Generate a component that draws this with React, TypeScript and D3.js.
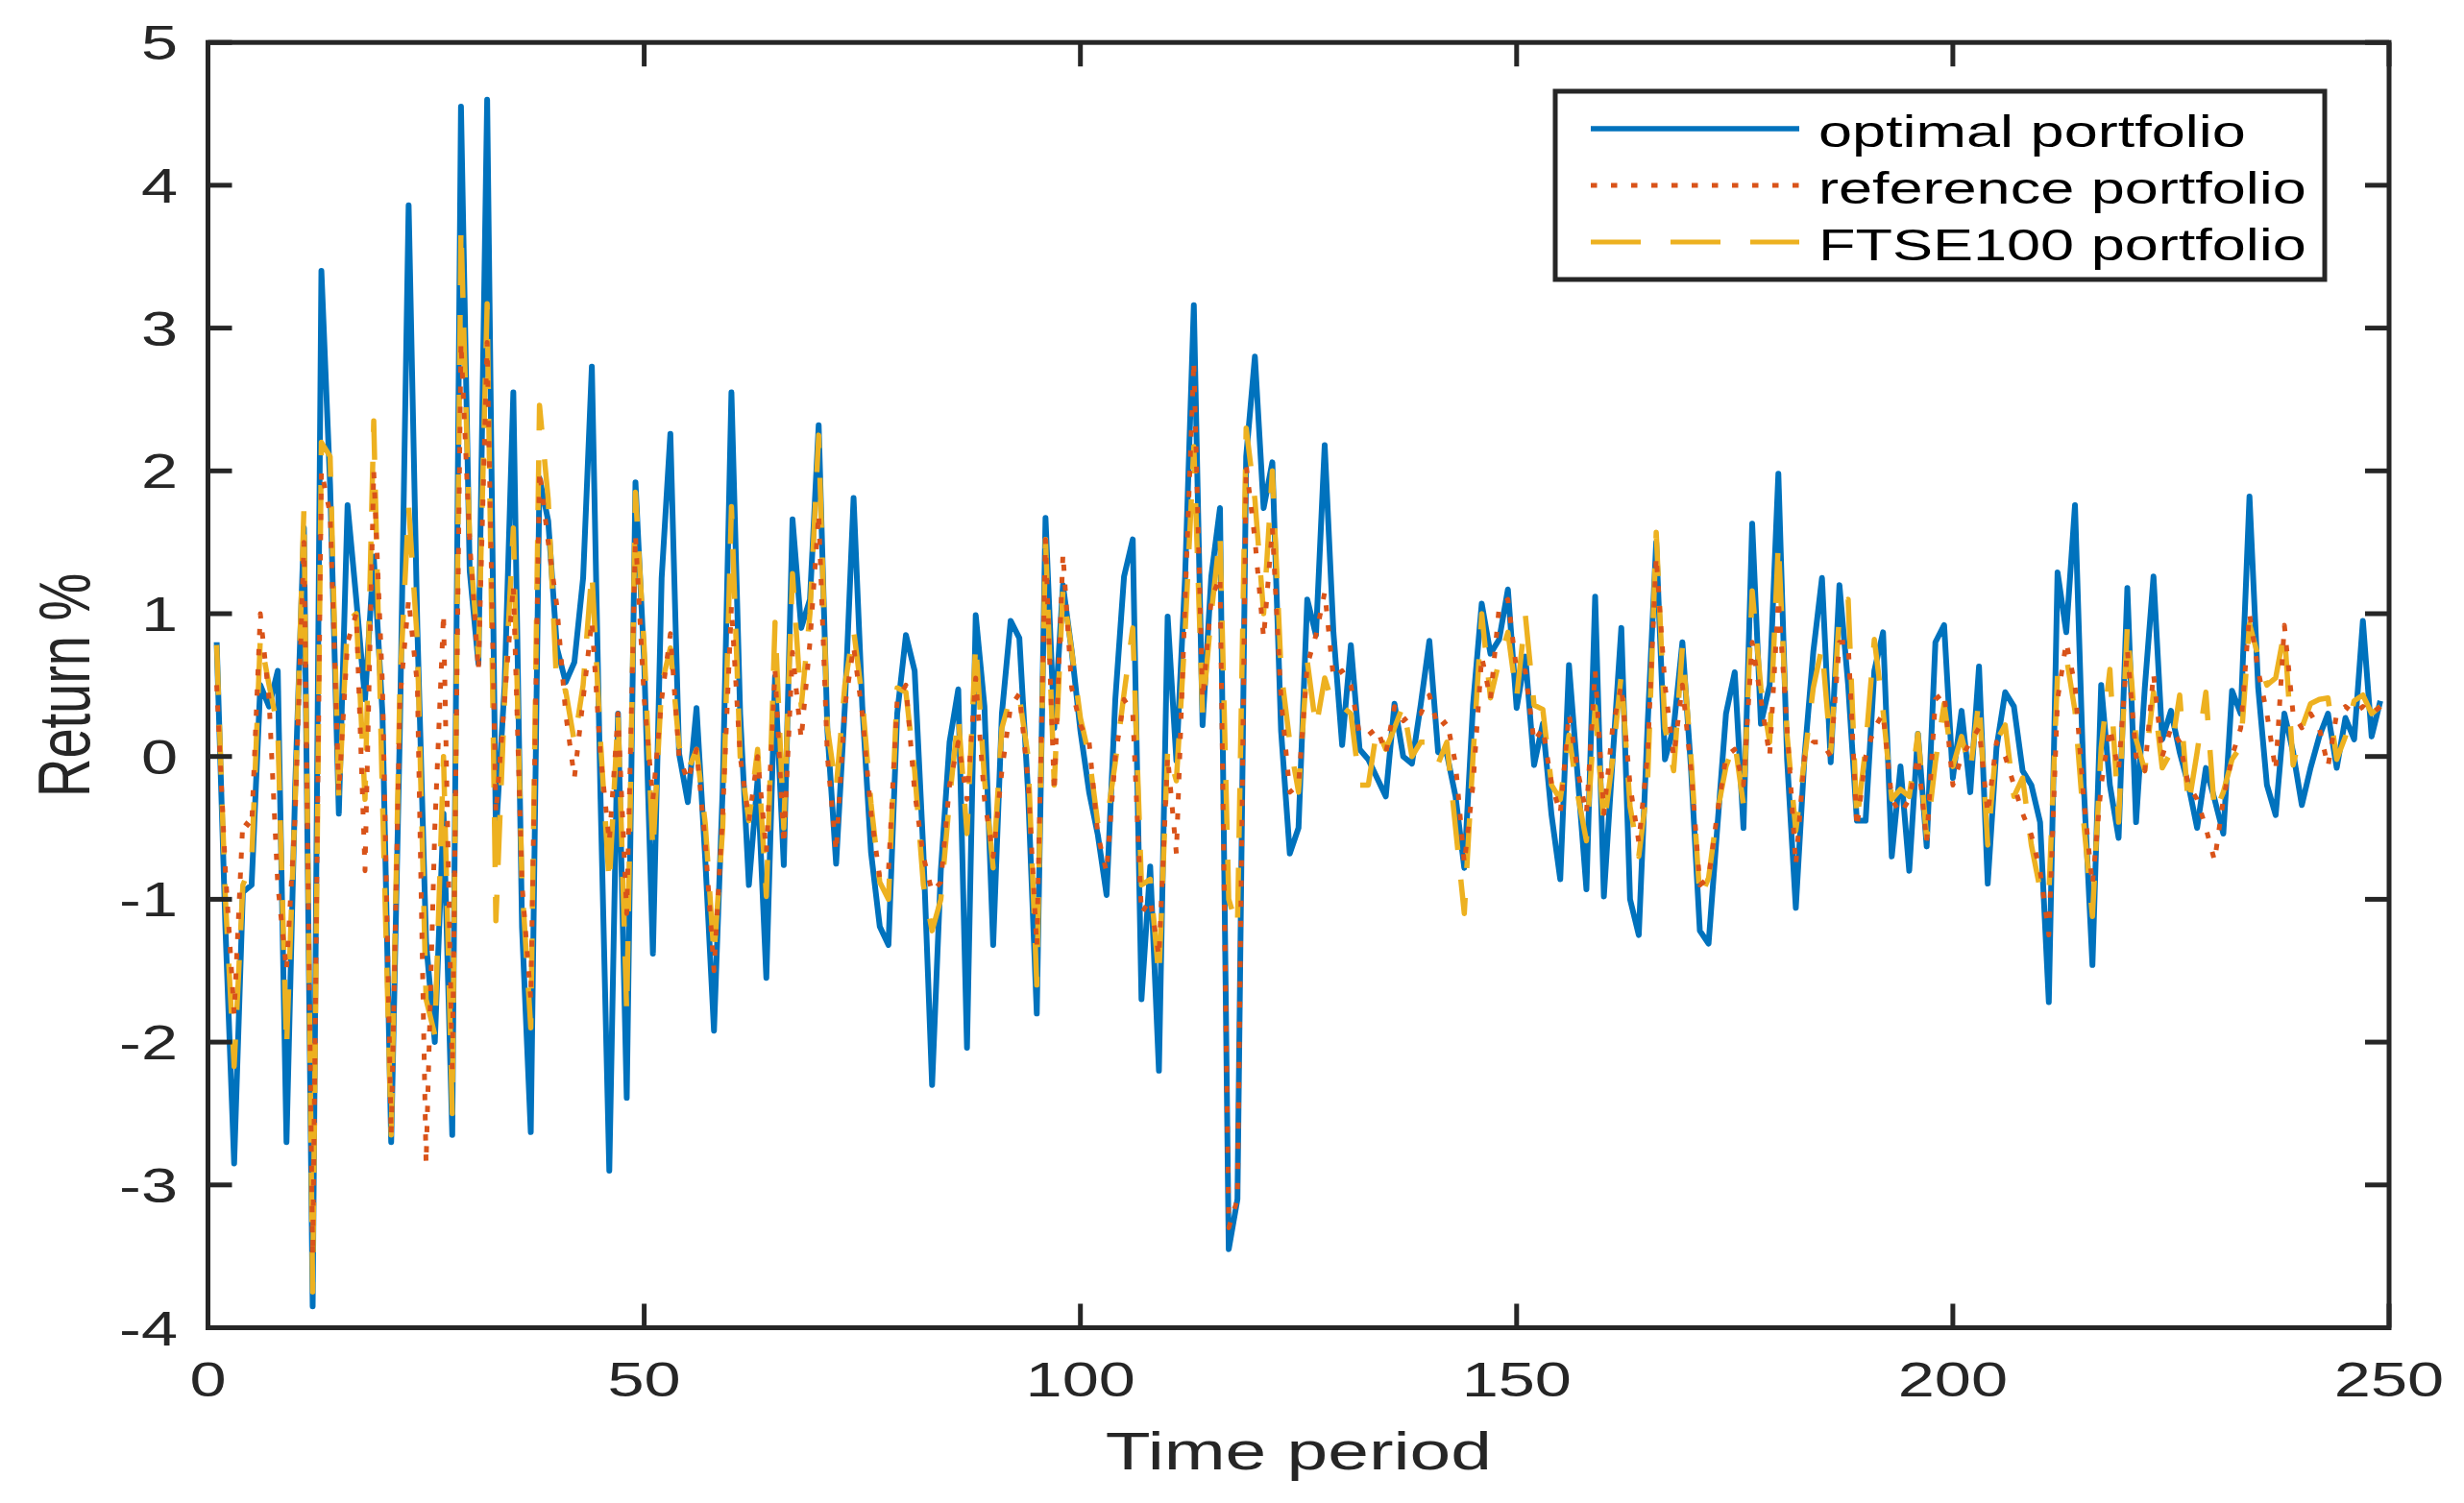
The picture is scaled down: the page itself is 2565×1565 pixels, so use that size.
import * as d3 from "d3";

// values, t = 1..249
const optimal = [
  0.8, -1.2, -2.85, -0.95, -0.9, 0.5, 0.35, 0.6, -2.7, -0.2,
  1.6, -3.85, 3.4, 1.9, -0.4, 1.76, 1.1, 0.4, 1.4, 0.3,
  -2.7, 0.2, 3.86, 0.9, -1.3, -2.0, -0.4, -2.65, 4.55, 1.3,
  0.65, 4.6, -0.55, 0.5, 2.55, -1.2, -2.63, 1.95, 1.65, 0.76,
  0.52, 0.66, 1.25, 2.73, -0.3, -2.9, 0.3, -2.39, 1.92, 0.66,
  -1.38, 1.25, 2.26, 0.02, -0.32, 0.34, -0.72, -1.92, -0.22, 2.55,
  0.3, -0.9, -0.16, -1.55, 0.56, -0.76, 1.66, 0.9, 1.1, 2.32,
  0.18, -0.75, 0.35, 1.81, 0.35, -0.67, -1.19, -1.32, 0.3, 0.85,
  0.6, -0.67, -2.3, -0.8, 0.1, 0.47, -2.04, 0.99, 0.35, -1.32,
  0.3, 0.95, 0.83, -0.25, -1.8, 1.67, 0.2, 1.2, 0.74, 0.18,
  -0.25, -0.55, -0.97, 0.4, 1.26, 1.52, -1.7, -0.77, -2.2, 0.98,
  -0.03, 1.26, 3.16, 0.22, 1.26, 1.74, -3.45, -3.1, 2.1, 2.8,
  1.74, 2.06, 0.18, -0.68, -0.5, 1.1, 0.85, 2.18, 0.87, 0.08,
  0.78, 0.05, -0.02, -0.15, -0.28, 0.37, 0.0, -0.05, 0.36, 0.81,
  0.03, 0.02, -0.28, -0.78, 0.36, 1.07, 0.72, 0.82, 1.17, 0.34,
  0.7, -0.06, 0.23, -0.41, -0.86, 0.64, -0.14, -0.93, 1.12, -0.98,
  -0.02, 0.9, -1.0, -1.25, 0.2, 1.5, -0.02, 0.2, 0.8, -0.1,
  -1.22, -1.31, -0.5, 0.3, 0.59, -0.5, 1.63, 0.23, 0.5, 1.98,
  -0.02, -1.06, 0.0, 0.73, 1.25, -0.04, 1.2, 0.5, -0.45, -0.45,
  0.6, 0.87, -0.7, -0.07, -0.8, 0.16, -0.63, 0.8, 0.92, -0.15,
  0.32, -0.25, 0.63, -0.89, 0.06, 0.45, 0.35, -0.1, -0.2, -0.46,
  -1.72, 1.29, 0.87, 1.76, -0.2, -1.46, 0.5, -0.2, -0.57, 1.18,
  -0.46, 0.48, 1.26, 0.12, 0.32, 0.03, -0.2, -0.5, -0.08, -0.3,
  -0.54, 0.46, 0.3, 1.82, 0.48, -0.2, -0.41, 0.3, 0.03, -0.34,
  -0.08, 0.14, 0.3, -0.08, 0.27, 0.12, 0.95, 0.14, 0.39,
];

const reference = [
  0.5, -0.8, -1.8, -0.45, -0.5, 1.0, 0.4, -0.9, -1.5, -0.4,
  1.5, -3.5, 2.0, 1.7, -0.25, 0.8, 1.0, -0.8, 2.0, 0.5,
  -2.65, 0.4, 1.1, 0.5, -2.85, -0.5, 1.0, -2.2, 2.9, 1.5,
  0.6, 2.9, -0.4, 0.4, 1.2, -0.9, -1.7, 2.0, 1.5, 1.05,
  0.3, -0.15, 0.4, 0.95, 0.0, -0.6, 0.3, -1.1, 1.55, 0.4,
  -0.3, 0.4, 0.86, 0.0, -0.17, 0.05, -0.6, -1.5, -0.4, 1.05,
  0.0, -0.45, 0.0, -0.67, 0.6, -0.62, 0.73, 0.12, 0.8, 1.7,
  0.0, -0.67, 0.35, 0.77, 0.3, -0.4, -0.85, -0.8, 0.4, 0.5,
  -0.25, -0.7, -0.95, -0.88, -0.2, 0.1, -0.3, 0.55, -0.3, -0.7,
  -0.1, 0.35, 0.44, -0.17, -1.33, 1.52, -0.25, 1.42, 0.48, 0.22,
  0.1, -0.55, -0.81, 0.0, 0.4, 0.3, -1.1, -1.0, -1.4, 0.0,
  -0.68, 1.09, 2.77, 0.4, 1.1, 1.26, -3.3, -3.1, 2.04, 1.52,
  0.83, 1.6, 0.4, -0.25, -0.2, 0.64, 0.85, 1.15, 0.55, 0.6,
  0.5, 0.15, 0.15, 0.2, 0.02, 0.35, 0.25, 0.3, 0.3, 0.43,
  0.2, 0.25, -0.05, -0.75, -0.2, 0.7, 0.4, 1.05, 1.1, 0.6,
  0.6, 0.1, 0.2, -0.19, -0.4, 0.3, -0.1, -0.4, 0.6, -0.4,
  0.2, 0.5, -0.2, -0.6, 0.0, 1.4, 0.5, 0.0, 0.5, -0.1,
  -0.9, -0.85, -0.4, 0.0, 0.05, -0.2, 0.8, 0.4, 0.0, 1.1,
  0.2, -0.76, 0.0, 0.1, 0.1, 0.0, 0.8, 0.8, -0.5, 0.0,
  0.2, 0.3, -0.3, -0.4, -0.3, 0.0, -0.6, 0.4, 0.45, -0.2,
  0.0, 0.1, 0.2, -0.4, 0.1, 0.0, -0.2, -0.4, -0.55, -0.8,
  -1.25, 0.4, 0.8, 0.5, -0.3, -0.9, -0.2, 0.2, -0.1, 0.75,
  0.0, -0.1, 0.58, 0.0, 0.2, 0.1, -0.2, -0.3, -0.5, -0.73,
  -0.3, 0.0, 0.2, 1.0, 0.6, 0.3, -0.1, 0.92, 0.3, 0.2,
  0.3, 0.2, -0.07, 0.3, 0.35, 0.3, 0.35, 0.3, 0.35,
];

const ftse100 = [
  0.78, -1.0, -2.17, -0.9, -0.75, 0.83, 0.5, 0.2, -2.05, -0.3,
  1.74, -3.75, 2.2, 2.1, -0.3, 0.95, 1.0, -0.3, 2.35, -0.3,
  -2.65, 0.5, 1.75, 0.8, -1.7, -1.95, 0.0, -2.5, 3.71, 1.5,
  0.7, 3.17, -1.15, 0.4, 1.6, -0.9, -1.9, 2.46, 1.8, 0.45,
  0.46, 0.1, 0.5, 1.3, 0.1, -0.9, 0.3, -1.8, 1.85, 0.76,
  -0.67, 0.5, 0.76, 0.07, -0.1, 0.05, -0.47, -1.4, -0.5, 1.75,
  0.0, -0.45, 0.05, -0.98, 0.94, -0.5, 1.28, 0.35, 1.0, 2.25,
  0.2, -0.23, 0.5, 0.89, 0.4, -0.33, -0.88, -1.0, 0.48, 0.45,
  -0.1, -0.9, -1.22, -1.0, -0.3, 0.29, -0.54, 0.8, -0.16, -0.78,
  0.2, 0.42, 0.42, 0.0, -1.6, 1.52, -0.2, 1.17, 0.74, 0.27,
  0.0, -0.47, -0.47, -0.04, 0.44, 0.9, -0.9, -0.86, -1.55, 0.05,
  -0.17, 0.87, 2.17, 0.3, 1.0, 1.56, -1.0, -1.2, 2.3, 1.8,
  1.0, 2.0, 0.6, 0.1, -0.25, 0.67, 0.2, 0.55, 0.35, 0.35,
  0.3, -0.2, -0.2, 0.2, 0.05, 0.2, 0.36, 0.0, 0.1, 0.1,
  -0.05, 0.1, -0.5, -1.1, 0.0, 1.0, 0.41, 0.67, 0.87, 0.41,
  0.99, 0.36, 0.33, -0.2, -0.3, 0.15, -0.27, -0.59, 0.35, -0.49,
  -0.02, 0.58, -0.35, -0.7, -0.2, 1.57, 0.2, -0.1, 0.77, -0.02,
  -1.0, -0.85, -0.39, -0.07, 0.1, -0.34, 1.16, 0.48, 0.1, 1.5,
  0.15, -0.52, -0.02, 0.48, 0.77, 0.03, 1.0, 1.1, -0.46, 0.06,
  0.82, 0.32, -0.3, -0.23, -0.28, 0.16, -0.57, -0.04, 0.37, -0.07,
  0.14, -0.1, 0.4, -0.62, 0.11, 0.22, -0.28, -0.15, -0.62, -0.93,
  -0.98, 0.58, 0.7, 0.32, -0.46, -1.12, 0.06, 0.61, -0.46, 0.92,
  0.12, -0.1, 0.45, -0.08, 0.03, 0.43, -0.35, 0.03, 0.45, -0.4,
  -0.25, -0.02, 0.07, 0.93, 0.7, 0.5, 0.55, 0.88, -0.06, 0.2,
  0.37, 0.4, 0.41, -0.02, 0.14, 0.39, 0.43, 0.3, 0.35,
];

const xTicks = [0, 50, 100, 150, 200, 250];
const yTicks = [-4, -3, -2, -1, 0, 1, 2, 3, 4, 5];
const legendLabels = ["optimal portfolio", "reference portfolio", "FTSE100 portfolio"];

const W = 2565;
const H = 1565;
const plot = { left: 216.5, right: 2487, top: 44.2, bottom: 1382.5 };
const axisColor = "#262626";
const font = "'Liberation Sans', Arial, Helvetica, sans-serif";
const stretch = 1.37; // the reference glyphs are wider than they are tall

const blue = "#0072BD";
const red = "#D95319";
const yellow = "#EDB120";

export default function App() {
  const x = d3.scaleLinear().domain([0, 250]).range([plot.left, plot.right]);
  const y = d3.scaleLinear().domain([-4, 5]).range([plot.bottom, plot.top]);

  const line = d3
    .line<number>()
    .x((_, i) => x(i + 1))
    .y((d) => y(d));

  const tickLen = 25;

  // order matters: yellow above blue, red dots on top
  const series = [
    { data: optimal, color: blue, width: 6, dash: "none" },
    { data: ftse100, color: yellow, width: 5.5, dash: "52 31" },
    { data: reference, color: red, width: 5, dash: "6.5 14.5" },
  ];

  const legendRows = [
    { label: legendLabels[0], color: blue, width: 5.5, dash: "none" },
    { label: legendLabels[1], color: red, width: 5, dash: "6.5 14.5" },
    { label: legendLabels[2], color: yellow, width: 5, dash: "52 31" },
  ];

  return (
    <svg
      width={W}
      height={H}
      style={{ position: "absolute", left: 0, top: 0, background: "#fff" }}
    >
      <rect x={0} y={0} width={W} height={H} fill="#fff" />

      {series.map((s, i) => (
        <path
          key={i}
          d={line(s.data) ?? ""}
          fill="none"
          stroke={s.color}
          strokeWidth={s.width}
          strokeDasharray={s.dash}
          strokeLinejoin="round"
        />
      ))}

      {/* ticks, mirrored on all four sides */}
      <g stroke={axisColor} strokeWidth={5}>
        {xTicks.map((t) => (
          <g key={"xt" + t}>
            <line x1={x(t)} x2={x(t)} y1={plot.bottom} y2={plot.bottom - tickLen} />
            <line x1={x(t)} x2={x(t)} y1={plot.top} y2={plot.top + tickLen} />
          </g>
        ))}
        {yTicks.map((t) => (
          <g key={"yt" + t}>
            <line x1={plot.left} x2={plot.left + tickLen} y1={y(t)} y2={y(t)} />
            <line x1={plot.right} x2={plot.right - tickLen} y1={y(t)} y2={y(t)} />
          </g>
        ))}
        <rect
          x={plot.left}
          y={plot.top}
          width={plot.right - plot.left}
          height={plot.bottom - plot.top}
          fill="none"
        />
      </g>

      {/* tick labels */}
      <g fill={axisColor} fontFamily={font} fontSize={50}>
        {xTicks.map((t) => (
          <text
            key={"xl" + t}
            transform={`translate(${x(t)}, 1454) scale(${stretch}, 1)`}
            textAnchor="middle"
          >
            {t}
          </text>
        ))}
        {yTicks.map((t) => (
          <text
            key={"yl" + t}
            transform={`translate(185, ${y(t) + 18}) scale(${stretch}, 1)`}
            textAnchor="end"
          >
            {t}
          </text>
        ))}
      </g>

      {/* axis labels */}
      <text
        transform={`translate(${(plot.left + plot.right) / 2}, 1530) scale(${stretch}, 1)`}
        textAnchor="middle"
        fontFamily={font}
        fontSize={56}
        fill={axisColor}
      >
        Time period
      </text>
      <text
        transform={`translate(93, ${(plot.top + plot.bottom) / 2}) scale(${stretch}, 1) rotate(-90)`}
        textAnchor="middle"
        fontFamily={font}
        fontSize={56}
        fill={axisColor}
      >
        Return %
      </text>

      {/* legend */}
      <g>
        <rect
          x={1619}
          y={95}
          width={801}
          height={196}
          fill="#fff"
          stroke={axisColor}
          strokeWidth={5}
        />
        {legendRows.map((r, i) => {
          const cy = 134 + i * 59;
          return (
            <g key={r.label}>
              <line
                x1={1656}
                x2={1873}
                y1={cy}
                y2={cy}
                stroke={r.color}
                strokeWidth={r.width}
                strokeDasharray={r.dash}
              />
              <text
                transform={`translate(1893, ${cy + 19}) scale(${stretch}, 1)`}
                fontFamily={font}
                fontSize={46}
                fill="#000"
              >
                {r.label}
              </text>
            </g>
          );
        })}
      </g>
    </svg>
  );
}
